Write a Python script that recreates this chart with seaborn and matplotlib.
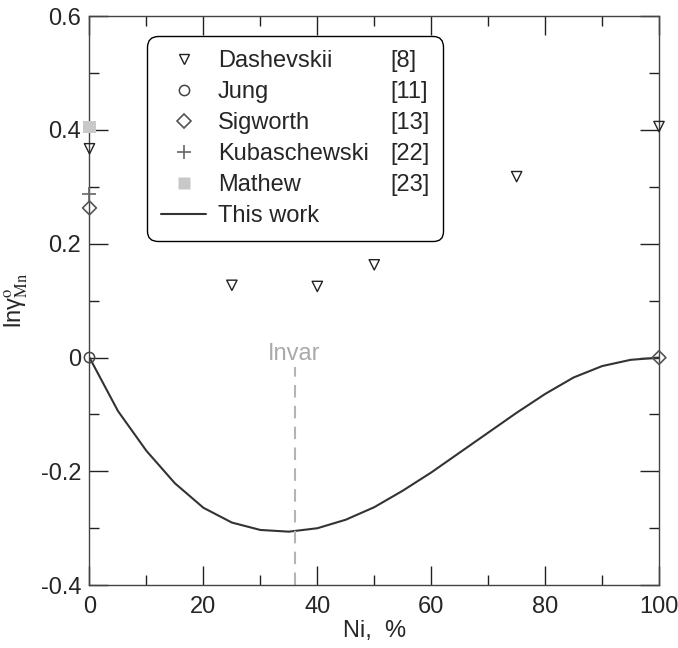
import numpy as np
import pandas as pd
import seaborn as sns
import matplotlib
matplotlib.use('Agg')
import matplotlib.pyplot as plt
from matplotlib.lines import Line2D

# data
ni_model = [0, 5, 10, 15, 20, 25, 30, 35, 40, 45, 50, 55, 60, 65, 70, 75, 80, 85, 90, 95, 100]
lng_model = [0, -0.094, -0.164, -0.221, -0.264, -0.290, -0.303, -0.306, -0.300, -0.285,
             -0.263, -0.234, -0.202, -0.167, -0.132, -0.097, -0.064, -0.035, -0.015, -0.004, 0]

dash_x = [0, 25, 40, 50, 75, 100]
dash_y = [0.367, 0.127, 0.125, 0.163, 0.318, 0.406]
jung_x = [0]
jung_y = [0]
sig_x = [0, 100]
sig_y = [0.263, 0]
kub_x = [0]
kub_y = [0.287]
mat_x = [0]
mat_y = [0.405]

invar_x = 36

names = ['Dashevskii', 'Jung', 'Sigworth', 'Kubaschewski', 'Mathew', 'This work']
refs = ['[8]', '[11]', '[13]', '[22]', '[23]', '']

sns.set_theme(style='ticks')
plt.rcParams['font.family'] = ['Liberation Sans', 'DejaVu Sans']
plt.rcParams['mathtext.fontset'] = 'stix'

fig = plt.figure(figsize=(6.78, 6.48), dpi=100)
ax = fig.add_axes([0.132, 0.097, 0.840, 0.878])

df = pd.DataFrame({'ni': ni_model, 'lng': lng_model})
sns.lineplot(data=df, x='ni', y='lng', ax=ax, color='#333333', lw=1.5)

ax.plot([invar_x, invar_x], [-0.4, -0.016], ls=(0, (6, 4)), color='#b4b4b4', lw=1.5)
ax.text(invar_x, 0.006, 'Invar', color='#aaaaaa', fontsize=17, ha='center', va='center')

sns.scatterplot(x=dash_x, y=dash_y, ax=ax, marker='v', s=55, facecolor='none',
                edgecolor='#222222', linewidth=1.0, clip_on=False, zorder=5)
sns.scatterplot(x=jung_x, y=jung_y, ax=ax, marker='o', s=55, facecolor='none',
                edgecolor='#444444', linewidth=1.1, clip_on=False, zorder=5)
sns.scatterplot(x=sig_x, y=sig_y, ax=ax, marker='D', s=49, facecolor='none',
                edgecolor='#555555', linewidth=1.2, clip_on=False, zorder=5)
sns.scatterplot(x=kub_x, y=kub_y, ax=ax, marker='+', s=90, color='#666666',
                linewidth=1.2, clip_on=False, zorder=5)
sns.scatterplot(x=mat_x, y=mat_y, ax=ax, marker='s', s=75, color='#c8c8c8',
                edgecolor='none', clip_on=False, zorder=5)

ax.set_xlim(0, 100)
ax.set_ylim(-0.4, 0.6)
ax.set_xticks([0, 20, 40, 60, 80, 100])
ax.set_xticks([10, 30, 50, 70, 90], minor=True)
ax.set_yticks([-0.4, -0.2, 0, 0.2, 0.4, 0.6])
ax.set_yticks([-0.3, -0.1, 0.1, 0.3, 0.5], minor=True)
ax.set_xticklabels(['0', '20', '40', '60', '80', '100'])
ax.set_yticklabels(['-0.4', '-0.2', '0', '0.2', '0.4', '0.6'])
ax.tick_params(which='both', direction='in', top=True, right=True, labelsize=17,
               color='#222222', width=1.0)
ax.tick_params(which='major', length=14)
ax.tick_params(which='minor', length=7)
ax.tick_params(axis='x', pad=8)
ax.tick_params(axis='y', pad=6)
for sp in ax.spines.values():
    sp.set_color('#444444')
    sp.set_linewidth(1.0)

ax.set_xlabel('Ni,  %', fontsize=17, labelpad=1)
ax.set_ylabel(r'lnγ$^{\mathrm{o}}_{\mathrm{Mn}}$', fontsize=17, labelpad=8)

# legend: names with markers in column one, refs in column two
handles = [
    Line2D([], [], ls='', marker='v', ms=7.4, mfc='none', mec='#222222', mew=1.0),
    Line2D([], [], ls='', marker='o', ms=7.4, mfc='none', mec='#444444', mew=1.1),
    Line2D([], [], ls='', marker='D', ms=7, mfc='none', mec='#555555', mew=1.2),
    Line2D([], [], ls='', marker='+', ms=9.5, mec='#666666', mew=1.2),
    Line2D([], [], ls='', marker='s', ms=8.6, mfc='#c8c8c8', mec='none'),
    Line2D([], [], color='#333333', lw=1.5),
]
blank = [Line2D([], [], ls='', marker='') for _ in refs]
leg = ax.legend(handles + blank, names + refs, ncol=2, loc='upper left',
                bbox_to_anchor=(0.101, 0.965), borderaxespad=0, fontsize=17,
                frameon=True, fancybox=True, edgecolor='black', framealpha=1,
                labelspacing=0.38, handlelength=1.9, handletextpad=0.5,
                columnspacing=-1.5, borderpad=0.6)
leg.get_frame().set_linewidth(1.0)
leg.get_frame().set_boxstyle('round,pad=0,rounding_size=0.45')

fig.savefig('out.png', dpi=100)
